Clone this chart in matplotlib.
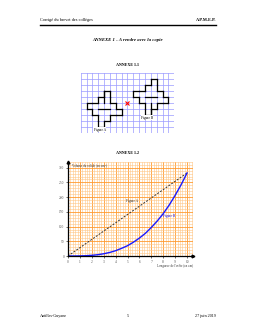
import matplotlib.pyplot as plt
import numpy as np

plt.rcParams['font.family'] = ['Liberation Serif', 'DejaVu Serif']

# figure A cells (column, row from top) on a 16 x 10 grid
fig_a_cells = [(4, 3), (3, 4), (4, 4), (1, 5), (2, 5), (3, 5), (4, 5), (5, 5),
               (2, 6), (3, 6), (4, 6), (5, 6), (6, 6), (3, 7), (4, 7), (3, 8)]
# figure B = image of A by the symmetry of centre (8, 5)
fig_b_cells = [(15 - c, 9 - r) for c, r in fig_a_cells]
centre = (8, 5)

# annex 1.2 curves
x_vals = [0, 0.5, 1, 1.5, 2, 2.5, 3, 3.5, 4, 4.5, 5, 5.5, 6, 6.5, 7, 7.5, 8, 8.5, 9, 9.5, 10]
curve_b = [0, 0.04, 0.3, 1, 2.3, 4.4, 7.6, 12, 18, 26, 35, 47, 61, 77, 97, 119, 144, 173, 206, 242, 282]
line_x = [0, 10]
line_y = [0, 282]
x_ticks = [0, 1, 2, 3, 4, 5, 6, 7, 8, 9, 10]
y_ticks = [0, 50, 100, 150, 200, 250, 300]

W, H = 255, 330
fig = plt.figure(figsize=(W / 100, H / 100), dpi=100)

def px(x, y):
    return x / W, 1 - y / H

def outline_edges(cells):
    # edges belonging to only one cell = border of the figure
    count = {}
    for c, r in cells:
        for e in [((c, r), (c + 1, r)), ((c, r + 1), (c + 1, r + 1)),
                  ((c, r), (c, r + 1)), ((c + 1, r), (c + 1, r + 1))]:
            count[e] = count.get(e, 0) + 1
    return [e for e, n in count.items() if n == 1]

# header / footer
fig.text(*px(40, 22), "Corrigé du brevet des collèges", fontsize=3.2, va='bottom')
fig.text(*px(216, 22), "A.P.M.E.P.", fontsize=3.2, va='bottom', ha='right', weight='bold')
fig.add_artist(plt.Line2D([40 / W, 216 / W], [1 - 25 / H, 1 - 25 / H], color='black', lw=1.0))
fig.text(*px(128, 40), "ANNEXE 1 - A rendre avec la copie", fontsize=3.4, ha='center', va='center',
         weight='bold', style='italic')
fig.text(*px(128, 65), "ANNEXE 1.1", fontsize=3, ha='center', va='center', weight='bold')
fig.text(*px(128, 153), "ANNEXE 1.2", fontsize=3, ha='center', va='center', weight='bold')
fig.text(*px(40, 316), "Antilles-Guyane", fontsize=3, va='center')
fig.text(*px(128, 316), "5", fontsize=3, ha='center', va='center')
fig.text(*px(216, 316), "27 juin 2019", fontsize=3, ha='right', va='center')

# ---- annex 1.1 : square grid
ax1 = fig.add_axes([80.7 / W, 1 - 132.5 / H, 93.6 / W, 59.5 / H])
ax1.set_xlim(0, 16)
ax1.set_ylim(10, 0)
for i in range(17):
    ax1.axvline(i, color='#9a9aff', lw=0.5)
for j in range(11):
    ax1.axhline(j, color='#9a9aff', lw=0.5)
for cells in (fig_a_cells, fig_b_cells):
    for (x0, y0), (x1, y1) in outline_edges(cells):
        ax1.plot([x0, x1], [y0, y1], color='black', lw=0.9, solid_capstyle='projecting')
# a few inner segments, as on the reference
ax1.plot([4, 4], [3, 5], color='black', lw=0.9)
ax1.plot([12, 12], [5, 7], color='black', lw=0.9)
ax1.plot([3, 5], [6, 6], color='black', lw=0.9)
ax1.plot([11, 13], [4, 4], color='black', lw=0.9)
ax1.plot(centre[0], centre[1], marker='x', color='red', ms=3, mew=0.8)
ax1.text(2.2, 9.5, "Figure A", fontsize=2.5, va='center',
         bbox=dict(fc='white', ec='none', pad=0.2))
ax1.text(10.3, 7.5, "Figure B", fontsize=2.5, va='center',
         bbox=dict(fc='white', ec='none', pad=0.2))
ax1.axis('off')

# ---- annex 1.2 : graph
ax2 = fig.add_axes([68 / W, 1 - 256 / H, 125 / W, 94.2 / H])
ax2.set_xlim(0, 10.5)
ax2.set_ylim(0, 320)
ax2.set_xticks(x_ticks)
ax2.set_yticks(y_ticks)
ax2.set_xticks(np.arange(0, 10.6, 0.2), minor=True)
ax2.set_yticks(np.arange(0, 321, 10), minor=True)
ax2.grid(which='minor', color='#ffc685', lw=0.4)
ax2.grid(which='major', color='#ff9a2e', lw=0.6)
ax2.set_axisbelow(True)
ax2.tick_params(labelsize=2.6, length=1.2, width=0.4, pad=1.5, labelcolor='#555555')
ax2.tick_params(which='minor', length=0)
for s in ('top', 'right'):
    ax2.spines[s].set_visible(False)
ax2.spines['left'].set_linewidth(0.9)
ax2.spines['bottom'].set_linewidth(0.9)
ax2.plot(1, 0, '>k', ms=2, transform=ax2.transAxes, clip_on=False)
ax2.plot(0, 1, '^k', ms=2, transform=ax2.transAxes, clip_on=False)

ax2.plot(line_x, line_y, color='#333333', lw=0.7, ls=(0, (2, 1.5)))
ax2.plot(x_vals, curve_b, color='#1a1aff', lw=1.0)
ax2.text(4.9, 182, "Figure A", fontsize=2.5, color='#333333')
ax2.text(8.0, 132, "Figure B", fontsize=2.5, color='#1a1aff')
ax2.text(0.3, 305, "Volume du solide (en cm³)", fontsize=2.3, color='#333333')
ax2.text(10.5, -38, "Longueur de l'arête (en cm)", fontsize=2.3, color='#333333', ha='right')

fig.savefig("out.png", dpi=100)
